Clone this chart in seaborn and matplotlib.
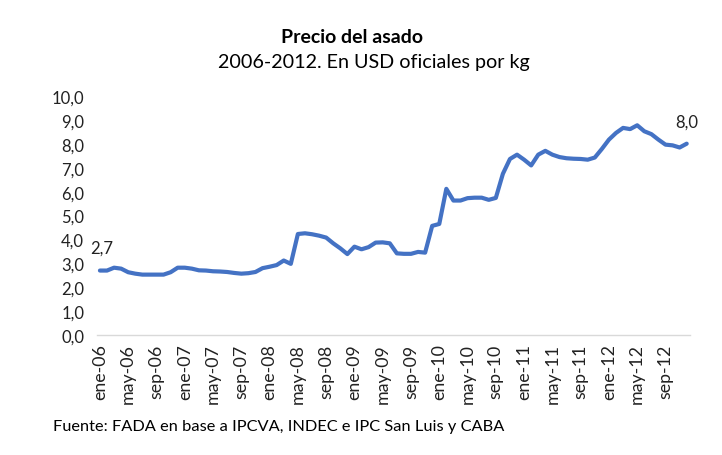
import matplotlib
matplotlib.use("Agg")
import matplotlib.pyplot as plt
import seaborn as sns
import pandas as pd

# ---- data ----
month_names = ["ene", "feb", "mar", "abr", "may", "jun", "jul", "ago", "sep", "oct", "nov", "dic"]
years = ["06", "07", "08", "09", "10", "11", "12"]

precio_2006 = [2.70, 2.70, 2.82, 2.78, 2.63, 2.57, 2.53, 2.53, 2.53, 2.53, 2.63, 2.82]
precio_2007 = [2.82, 2.78, 2.71, 2.70, 2.67, 2.66, 2.64, 2.60, 2.57, 2.59, 2.64, 2.80]
precio_2008 = [2.86, 2.93, 3.12, 2.98, 4.23, 4.26, 4.22, 4.16, 4.08, 3.84, 3.63, 3.39]
precio_2009 = [3.70, 3.59, 3.68, 3.87, 3.88, 3.84, 3.42, 3.40, 3.40, 3.48, 3.45, 4.57]
precio_2010 = [4.65, 6.12, 5.63, 5.63, 5.73, 5.75, 5.75, 5.66, 5.74, 6.75, 7.37, 7.55]
precio_2011 = [7.34, 7.10, 7.55, 7.71, 7.55, 7.45, 7.40, 7.38, 7.37, 7.34, 7.43, 7.79]
precio_2012 = [8.18, 8.46, 8.67, 8.62, 8.78, 8.53, 8.41, 8.18, 7.97, 7.94, 7.85, 8.01]

title = "Precio del asado"
subtitle = "2006-2012. En USD oficiales por kg"
source = "Fuente: FADA en base a IPCVA, INDEC e IPC San Luis y CABA"
y_ticks = [0, 1, 2, 3, 4, 5, 6, 7, 8, 9, 10]

# ---- build table ----
values = precio_2006 + precio_2007 + precio_2008 + precio_2009 + precio_2010 + precio_2011 + precio_2012
labels = [f"{m}-{y}" for y in years for m in month_names]
df = pd.DataFrame({"idx": range(len(values)), "mes": labels, "precio": values})

sns.set_theme(style="white")
FONT = ["Lato", "DejaVu Sans"]
plt.rcParams["font.family"] = FONT

fig = plt.figure(figsize=(7.22, 4.56), dpi=100)
ax = fig.add_axes([0.134, 0.263, 0.822, 0.524])

color = "#4472C4"
sns.lineplot(data=df, x="idx", y="precio", ax=ax, color=color, linewidth=3.0,
             solid_joinstyle="round", solid_capstyle="round")

ax.set_ylim(0, 10)
ax.set_xlim(-0.45, 83.5)
ax.set_yticks(y_ticks)
ax.set_yticklabels([f"{v:.1f}".replace(".", ",") for v in y_ticks], fontsize=12, color="#222222")
tick_pos = list(range(0, len(values), 4))
ax.set_xticks(tick_pos)
ax.set_xticklabels([labels[i] for i in tick_pos], rotation=90, fontsize=12.8, color="#222222")
ax.tick_params(axis="x", length=0, pad=6)
ax.tick_params(axis="y", length=0, pad=9)
ax.set_xlabel("")
ax.set_ylabel("")
for s in ["top", "right", "left"]:
    ax.spines[s].set_visible(False)
ax.spines["bottom"].set_color("#d9d9d9")
ax.spines["bottom"].set_linewidth(1.0)
ax.grid(False)

# data labels on first and last points
first = df.iloc[0]
last = df.iloc[-1]
ax.annotate(f"{first.precio:.1f}".replace(".", ","), (first.idx, first.precio),
            xytext=(1, 11), textcoords="offset points", ha="center", va="bottom",
            fontsize=12, color="#222222")
ax.annotate(f"{last.precio:.1f}".replace(".", ","), (last.idx, last.precio),
            xytext=(0, 10), textcoords="offset points", ha="center", va="bottom",
            fontsize=12, color="#222222")

fig.text(0.488, 0.918, title, ha="center", va="center", fontsize=14, fontweight="bold", color="#000000")
fig.text(0.518, 0.862, subtitle, ha="center", va="center", fontsize=14.2, color="#000000")
fig.text(0.073, 0.063, source, ha="left", va="center", fontsize=11.8, color="#000000")

fig.savefig("out.png", dpi=100)
